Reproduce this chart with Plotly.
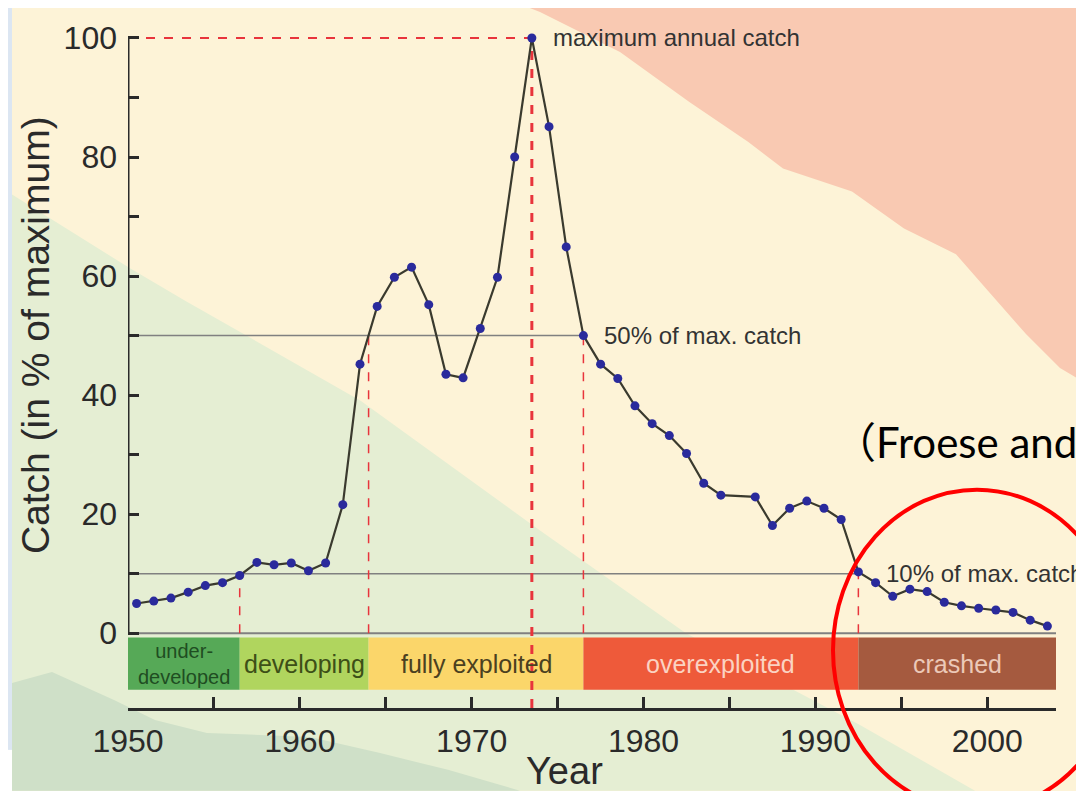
import plotly.graph_objects as go

# ---------------- data ----------------
years = list(range(1950, 1985)) + list(range(1986, 2004))
catch_pct = [5.0, 5.4, 5.9, 6.9, 8.0, 8.5, 9.7, 11.9, 11.5, 11.8,
             10.5, 11.8, 21.6, 45.2, 54.9, 59.8, 61.5, 55.2, 43.5, 42.9,
             51.2, 59.8, 80.0, 100.0, 85.1, 64.9, 50.0, 45.2, 42.8, 38.2,
             35.2, 33.2, 30.2, 25.2, 23.2,
             22.9, 18.1, 21.0, 22.2, 21.0, 19.1, 10.3, 8.5, 6.2, 7.4,
             7.0, 5.2, 4.6, 4.2, 3.9, 3.5, 2.2, 1.2]

stage_names = ["under-<br>developed", "developing", "fully exploited", "overexploited", "crashed"]
stage_start = [1950, 1956.5, 1964.0, 1976.5, 1992.5]
stage_end = [1956.5, 1964.0, 1976.5, 1992.5, 2004.0]
stage_colors = ["#56a957", "#b0d55e", "#fbd66a", "#ee5a3a", "#a55a3f"]
stage_text_colors = ["#1f4d22", "#3d4f17", "#4b4020", "#fbd3c2", "#ecc9b8"]

boundary_years = [1956.5, 1964.0, 1973.5, 1976.5, 1992.5]
boundary_levels = [10, 50, 100, 50, 10]

x_ticks = list(range(1950, 2001, 5))
x_labels = [str(v) if v % 10 == 0 else "" for v in x_ticks]
y_ticks = list(range(0, 101, 10))
y_labels = [str(v) if v % 20 == 0 else "" for v in y_ticks]

# ---------------- layout constants ----------------
OFF = 8                      # page body margin in the browser
FW, FH = 1084 - OFF, 791 - OFF
ML, MT = 120, 22
MR, MB = 28, 83
PW, PH = FW - ML - MR, FH - MT - MB
FONT = "Liberation Sans, Arial, sans-serif"
DARK = "#2a2a2a"
RED = "#e8343c"
GREY = "#808080"
YMIN, YMAX = -12.56, 101.0


def px(x):
    """page pixel x -> paper fraction"""
    return (x - OFF - ML) / PW


def py(y):
    """page pixel y -> paper fraction"""
    return 1 - (y - OFF - MT) / PH


def poly(points):
    return "M " + " L ".join(f"{px(a):.5f},{py(b):.5f}" for a, b in points) + " Z"


x_mid = [y + 0.5 for y in years]  # catches plotted at mid-year

shapes = []
# picture background
shapes.append(dict(type="rect", xref="paper", yref="paper", x0=px(12), x1=px(1100), y0=py(0), y1=py(800),
                   fillcolor="#fdf3d7", line=dict(width=0), layer="below"))
shapes.append(dict(type="rect", xref="paper", yref="paper", x0=px(0), x1=px(12), y0=py(750), y1=py(800),
                   fillcolor="#ffffff", line=dict(width=0), layer="below"))
shapes.append(dict(type="path", xref="paper", yref="paper", layer="below", line=dict(width=0),
                   fillcolor="#e5eed3",
                   path=poly([(12, 193), (130, 267), (186, 300), (361, 400), (540, 530), (686, 633),
                              (860, 725), (975, 791), (12, 791)])))
shapes.append(dict(type="path", xref="paper", yref="paper", layer="below", line=dict(width=0),
                   fillcolor="#cfe0c8",
                   path=poly([(12, 683), (52, 672), (114, 700), (155, 720), (207, 733), (310, 737),
                              (379, 753), (448, 770), (520, 791), (12, 791)])))
shapes.append(dict(type="path", xref="paper", yref="paper", layer="below", line=dict(width=0),
                   fillcolor="#f9c9b2",
                   path=poly([(515, 0), (540, 10), (620, 50), (689, 100), (748, 140), (783, 167),
                              (852, 190), (904, 227), (956, 253), (991, 293), (1026, 333),
                              (1060, 367), (1090, 385), (1090, 0)])))

# stage bars
for s0, s1, c in zip(stage_start, stage_end, stage_colors):
    shapes.append(dict(type="rect", xref="x", yref="y", x0=s0, x1=s1, y0=-9.5, y1=-0.7,
                       fillcolor=c, line=dict(width=0), layer="below"))

# reference lines
shapes.append(dict(type="line", xref="x", yref="y", x0=1950, x1=stage_end[-1], y0=0, y1=0,
                   line=dict(color=GREY, width=2), layer="below"))
shapes.append(dict(type="line", xref="x", yref="y", x0=1950, x1=boundary_years[3], y0=50, y1=50,
                   line=dict(color=GREY, width=1.5), layer="below"))
shapes.append(dict(type="line", xref="x", yref="y", x0=1950, x1=boundary_years[4], y0=10, y1=10,
                   line=dict(color=GREY, width=1.5), layer="below"))
shapes.append(dict(type="line", xref="x", yref="y", x0=1950, x1=boundary_years[2], y0=100, y1=100,
                   line=dict(color=RED, width=2, dash="dash"), layer="below"))
for bx, lv in zip(boundary_years, boundary_levels):
    peak = lv == 100
    shapes.append(dict(type="line", xref="x", yref="y", x0=bx, x1=bx, y0=YMIN if peak else 0, y1=lv,
                       line=dict(color=RED, width=3 if peak else 1.5, dash="dash"), layer="below"))

# y axis line (0..100 only)
shapes.append(dict(type="line", xref="x", yref="y", x0=1950, x1=1950, y0=0, y1=100,
                   line=dict(color=DARK, width=3)))

# red circle
shapes.append(dict(type="circle", xref="paper", yref="paper", x0=px(833), x1=px(1121), y0=py(811), y1=py(489),
                   line=dict(color="#ff0000", width=4)))

annotations = []
for name, s0, s1, tc in zip(stage_names, stage_start, stage_end, stage_text_colors):
    annotations.append(dict(x=(s0 + s1) / 2, y=-5.1, xref="x", yref="y", text=name, showarrow=False,
                            xanchor="center", yanchor="middle",
                            font=dict(family=FONT, size=20 if "<br>" in name else 25, color=tc)))

annotations += [
    dict(x=1974.6, y=100, xref="x", yref="y", text="maximum annual catch", showarrow=False,
         xanchor="left", yanchor="middle", font=dict(family=FONT, size=24, color="#333333")),
    dict(x=1977.6, y=50, xref="x", yref="y", text="50% of max. catch", showarrow=False,
         xanchor="left", yanchor="middle", font=dict(family=FONT, size=24, color="#333333")),
    dict(x=1994.0, y=10, xref="x", yref="y", text="10% of max. catch", showarrow=False,
         xanchor="left", yanchor="middle", font=dict(family=FONT, size=24, color="#333333")),
    dict(x=px(35), y=py(334), xref="paper", yref="paper", text="Catch (in % of maximum)", showarrow=False,
         xanchor="center", yanchor="middle",
         textangle=-90, font=dict(family=FONT, size=39, color=DARK)),
    dict(x=px(564), y=py(771), xref="paper", yref="paper", text="Year", showarrow=False,
         xanchor="center", yanchor="middle",
         font=dict(family=FONT, size=38, color=DARK)),
    dict(x=px(832), y=py(441), xref="paper", yref="paper", text="（Froese and", showarrow=False,
         xanchor="left", yanchor="middle",
         font=dict(family="Lato, Noto Sans CJK SC, sans-serif", size=42, color="#000000")),
]

fig = go.Figure()
fig.add_trace(go.Scatter(x=x_mid, y=catch_pct, mode="lines+markers",
                         line=dict(color="#3a3a2e", width=2.2),
                         marker=dict(color="#2a2a9c", size=9), showlegend=False, cliponaxis=False))

fig.update_layout(
    width=FW, height=FH, autosize=False,
    margin=dict(l=ML, r=MR, t=MT, b=MB, pad=0),
    paper_bgcolor="#dce6f2", plot_bgcolor="rgba(0,0,0,0)",
    shapes=shapes, annotations=annotations, showlegend=False,
    xaxis=dict(range=[1950, 2004], tickvals=x_ticks, ticktext=x_labels, ticks="inside", ticklen=11,
               tickwidth=2.5, tickcolor=DARK, showline=True, linecolor=DARK, linewidth=3,
               showgrid=False, zeroline=False, ticklabelstandoff=3,
               tickfont=dict(family=FONT, size=32, color=DARK)),
    yaxis=dict(range=[YMIN, YMAX], tickvals=y_ticks, ticktext=y_labels, ticks="inside", ticklen=11,
               tickwidth=2.5, tickcolor=DARK, showline=False, showgrid=False, zeroline=False,
               ticklabelstandoff=10, tickfont=dict(family=FONT, size=32, color=DARK)),
)

fig.write_html("out.html")
